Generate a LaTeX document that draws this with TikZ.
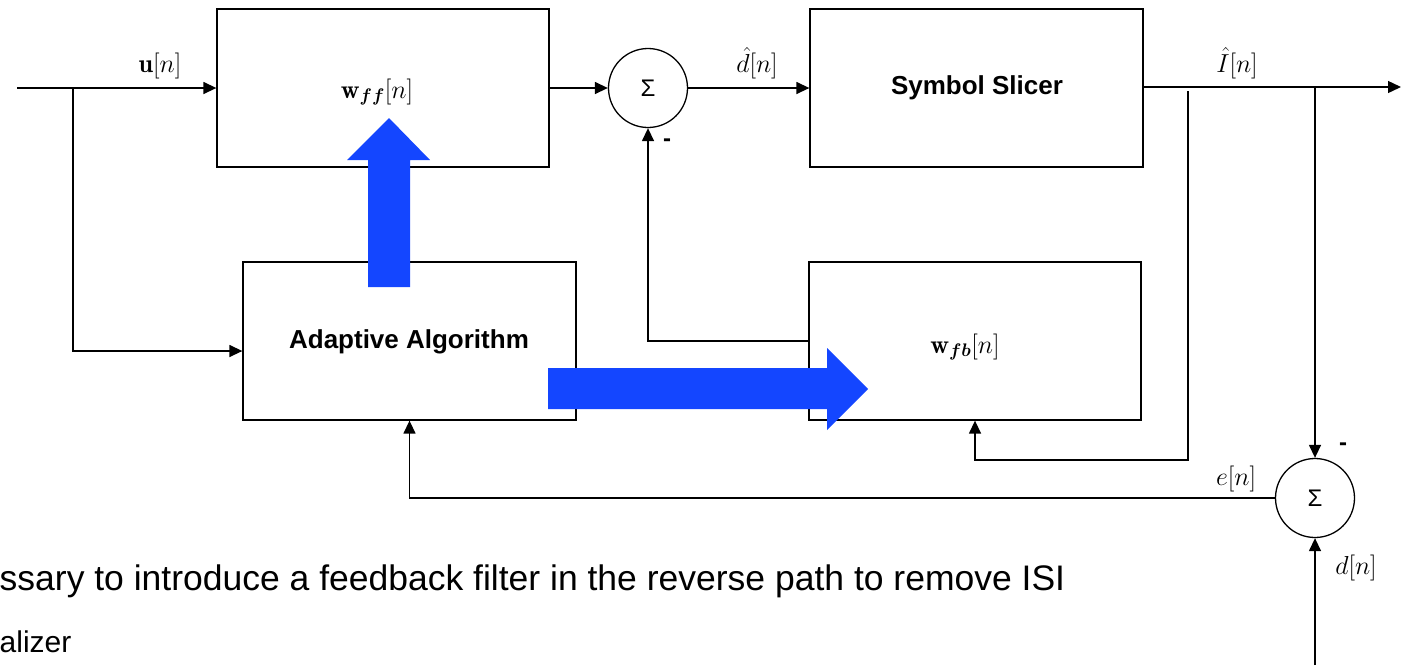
\RequirePackage{fix-cm}
\documentclass[tikz,border=0pt]{standalone}
\usepackage{amsmath}
\usepackage{fontspec}
\setsansfont{Liberation Sans}
\usetikzlibrary{arrows.meta}
\definecolor{bluearr}{RGB}{20,70,255}
\begin{document}
\begin{tikzpicture}[x=1pt,y=-1pt,
  line width=1.4pt,
  arr/.style={-{Triangle[length=13pt,width=12pt]}},
  blockbox/.style={draw,line width=1.3pt,minimum width=#1,minimum height=158pt,inner sep=0pt},
  blockbox/.default=332pt,
  sumnode/.style={draw,circle,line width=1.3pt,minimum size=79pt,inner sep=0pt,font=\fontsize{24}{28}\selectfont\sffamily},
  mlabel/.style={font=\fontsize{26}{30}\selectfont,inner sep=0pt},
  blabel/.style={font=\fontsize{26}{30}\selectfont\sffamily\bfseries,inner sep=0pt},
  minus/.style={font=\fontsize{24}{28}\selectfont\sffamily\bfseries,inner sep=0pt},
  bodytext/.style={inner sep=0pt,anchor=base west},
  bigarrow/.style={fill=bluearr,draw=none}
]
\useasboundingbox (0,0) rectangle (1401,665);

% blocks
\node[blockbox] (wff) at (383,88) {};
\node[blockbox=333pt] (slicer) at (976.5,88) {};
\node[blockbox=333pt] (adapt) at (409.5,341) {};
\node[blockbox] (wfb) at (975,341) {};
\node[sumnode] (sum1) at (648,88) {Σ};
\node[sumnode] (sum2) at (1315,498) {Σ};

% block labels
\node[mlabel] (wfflab) at (377,92) {$\mathbf{w}_{\boldsymbol{f}\boldsymbol{f}}[n]$};
\node[mlabel] (wfblab) at (965,347) {$\mathbf{w}_{\boldsymbol{f}\boldsymbol{b}}[n]$};
\node[blabel] (slicerlab) at (977,88) {Symbol Slicer};
\node[blabel] (adaptlab) at (409,342) {Adaptive Algorithm};

% coordinates
\coordinate (in) at (17,88);
\coordinate (br) at (73,88);
\coordinate (out) at (1401,87);
\coordinate (tapA) at (1188,91);
\coordinate (tapB) at (1315,87);
\coordinate (dn) at (1315,665);

% connectors
\draw[arr] (in) -- (wff.west);
\draw[arr] (br) |- ([yshift=-10pt]adapt.west);
\draw[arr] (wff.east) -- (sum1.west);
\draw[arr] (sum1.east) -- (slicer.west);
\draw[arr] (slicer.east |- out) -- (out);
\draw[arr] (wfb.west) -| (sum1.south);
\draw[arr] (tapA) -- ++(0,369) -| (wfb.south);
\draw[arr] (tapB) -- (sum2.north);
\draw[arr] (sum2.west) -| (adapt.south);
\draw[arr] (dn) -- (sum2.south);

% signal labels
\node[mlabel] (ulab) at (160,66) {$\mathbf{u}[n]$};
\node[mlabel] (dhatlab) at (757,63) {$\hat{d}[n]$};
\node[mlabel] (ihatlab) at (1237,63) {$\hat{I}[n]$};
\node[mlabel] (elab) at (1236,479) {$e[n]$};
\node[mlabel] (dlab) at (1356,568) {$d[n]$};
\node[minus] (m1) at (667,143) {-};
\node[minus] (m2) at (1343,447) {-};

% blue arrows
\fill[bigarrow] (368,287) -- (368,160) -- (347,160) -- (389,118) -- (430,160) -- (410,160) -- (410,287) -- cycle;
\fill[bigarrow] (548,368) -- (827,368) -- (827,348) -- (868,389) -- (827,430) -- (827,409) -- (548,409) -- cycle;

% text
\node[bodytext,font=\fontsize{35.5}{40}\selectfont\sffamily] (t1) at (-1,590) {ssary to introduce a feedback filter in the reverse path to remove ISI};
\node[bodytext,font=\fontsize{30}{36}\selectfont\sffamily] (t2) at (-1,652) {alizer};
\end{tikzpicture}
\end{document}
